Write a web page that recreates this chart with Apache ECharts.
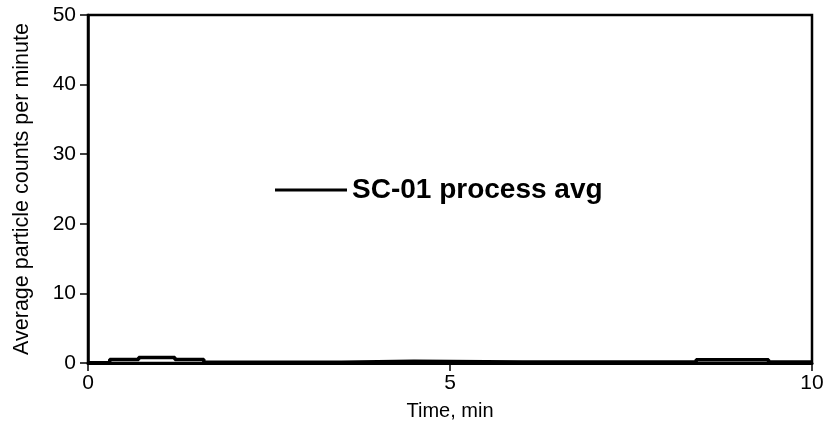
<!DOCTYPE html>
<html><head><meta charset="utf-8">
<script src="https://cdn.jsdelivr.net/npm/echarts@6/dist/echarts.min.js"></script>
<style>html,body{margin:0;padding:0;background:#fff}#c{width:827px;height:426px}</style>
</head><body><div id="c"></div>
<script>
var timeMin = [0, 0.3, 0.7, 1.2, 1.6, 2.5, 3.5, 4.5, 6.0, 7.5, 8.4, 9.0, 9.4, 10];
var countsAvg = [0.05, 0.5, 0.8, 0.5, 0.1, 0.1, 0.25, 0.15, 0.15, 0.15, 0.45, 0.45, 0.15, 0.15];
var yTicks = [0, 10, 20, 30, 40, 50];
var xTicks = [0, 5, 10];
var seriesName = 'SC-01 process avg';

var data = timeMin.map(function (t, i) { return [t, countsAvg[i]]; });
var font = 'Liberation Sans, Arial, sans-serif';
var chart = echarts.init(document.getElementById('c'));
chart.setOption({
  animation: false,
  grid: { left: 88, right: 15, top: 15, bottom: 63, containLabel: false, outerBoundsMode: 'none', show: true, borderColor: '#000', borderWidth: 2.5, backgroundColor: 'transparent' },
  legend: {
    data: [{ name: seriesName, icon: 'rect' }],
    left: 270, top: 171, itemWidth: 72, itemHeight: 3, itemGap: 13,
    textStyle: { fontFamily: font, fontSize: 28, fontWeight: 'bold', color: '#000' }
  },
  xAxis: {
    type: 'value', min: xTicks[0], max: xTicks[xTicks.length - 1], interval: 5,
    name: 'Time, min', nameLocation: 'middle', nameGap: 38,
    nameTextStyle: { fontFamily: font, fontSize: 20, color: '#000' },
    axisLine: { show: true, lineStyle: { color: '#000', width: 3 } },
    axisTick: { show: true, length: 8, lineStyle: { color: '#000', width: 1.5 } },
    axisLabel: { fontFamily: font, fontSize: 21, color: '#000', margin: 10 },
    splitLine: { show: false }
  },
  yAxis: {
    type: 'value', min: yTicks[0], max: yTicks[yTicks.length - 1], interval: 10,
    name: 'Average particle counts per minute', nameLocation: 'middle', nameGap: 55, nameRotate: 90,
    nameTextStyle: { fontFamily: font, fontSize: 21.5, color: '#000' },
    axisLine: { show: true, lineStyle: { color: '#000', width: 2.5 } },
    axisTick: { show: true, length: 8, lineStyle: { color: '#000', width: 1.5 } },
    axisLabel: { fontFamily: font, fontSize: 21, color: '#000', margin: 12 },
    splitLine: { show: false }
  },
  series: [{
    name: seriesName, type: 'line', step: 'end', data: data,
    showSymbol: false, symbol: 'none',
    lineStyle: { color: '#000', width: 3.5 }, itemStyle: { color: '#000' }
  }]
});
</script></body></html>
